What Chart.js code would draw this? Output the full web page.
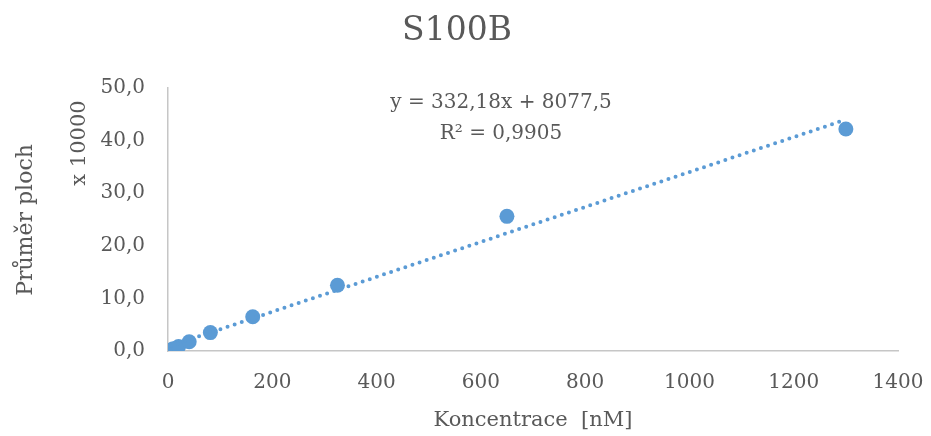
<!DOCTYPE html>
<html lang="cs">
<head>
<meta charset="utf-8">
<title>S100B</title>
<script src="https://cdn.jsdelivr.net/npm/chart.js@4/dist/chart.umd.min.js"></script>
<style>
  html, body { margin: 0; padding: 0; background: #ffffff; }
  #wrap { width: 931px; height: 436px; }
</style>
</head>
<body>
<div id="wrap"><canvas id="calib"></canvas></div>
<script>
/* =================================================================
   S100B calibration curve
   Mean peak area vs. concentration, with a linear trendline
   ================================================================= */

// Concentration series [nM]
const concentrations = [5.08, 10.16, 20.31, 40.63, 81.25, 162.5, 325, 650, 1300];
// Mean peak areas, in units of 10 000
const meanAreas = [0.2, 0.45, 0.85, 1.75, 3.5, 6.5, 12.5, 25.6, 42.2];

// Axis ticks
const xTicks = [0, 200, 400, 600, 800, 1000, 1200, 1400];
const yTicks = [0, 10, 20, 30, 40, 50];

// Linear fit (raw units) and display unit of the y axis
const trendSlope = 332.18;
const trendIntercept = 8077.5;
const rSquared = 0.9905;
const displayUnit = 10000;

// Texts
const chartTitle = 'S100B';
const xTitle = 'Koncentrace  [nM]';
const yTitle = 'Průměr ploch';
const yUnitTitle = 'x 10000';

// Look
const FONT = '"DejaVu Serif", serif';
const TEXT_COLOR = '#595959';
const SERIES_COLOR = '#5b9bd5';
const AXIS_COLOR = '#c6c6c6';

// Decimal comma formatter
const fmt = (value, digits) => value.toFixed(digits).replace('.', ',');

// Trendline end points from the fitted equation, across the data range
const trendX = [concentrations[0], concentrations[concentrations.length - 1]];
const trendPoints = trendX.map(x => ({ x, y: (trendSlope * x + trendIntercept) / displayUnit }));

const scatterPoints = concentrations.map((x, i) => ({ x, y: meanAreas[i] }));

// Rotated, centred text helper
function drawVertical(ctx, text, x, y, size) {
  ctx.save();
  ctx.translate(x, y);
  ctx.rotate(-Math.PI / 2);
  ctx.font = `${size}px ${FONT}`;
  ctx.fillText(text, 0, 0);
  ctx.restore();
}

// Title, axis titles and trendline equation
const textLayer = {
  id: 'textLayer',
  afterDraw(chart) {
    const ctx = chart.ctx;
    ctx.save();
    ctx.fillStyle = TEXT_COLOR;
    ctx.textAlign = 'center';
    ctx.textBaseline = 'middle';

    ctx.font = `33px ${FONT}`;
    ctx.fillText(chartTitle, 457, 31);

    ctx.font = `20px ${FONT}`;
    ctx.fillText(`y = ${fmt(trendSlope, 2)}x + ${fmt(trendIntercept, 1)}`, 501, 103);
    ctx.fillText(`R² = ${fmt(rSquared, 4)}`, 501, 134);

    ctx.font = `21px ${FONT}`;
    ctx.fillText(xTitle, 533, 421);

    drawVertical(ctx, yTitle, 26, 220, 22);
    drawVertical(ctx, yUnitTitle, 80, 143, 21);
    ctx.restore();
  }
};

new Chart(document.getElementById('calib'), {
  type: 'scatter',
  data: {
    datasets: [
      {
        // dotted linear trendline, drawn over the points
        type: 'line',
        data: trendPoints,
        order: 0,
        borderColor: SERIES_COLOR,
        borderWidth: 4,
        borderDash: [0, 7.5],
        borderCapStyle: 'round',
        pointRadius: 0,
        fill: false
      },
      {
        data: scatterPoints,
        order: 1,
        backgroundColor: SERIES_COLOR,
        borderWidth: 0,
        pointRadius: 7.5,
        pointHoverRadius: 7.5
      }
    ]
  },
  options: {
    responsive: true,
    maintainAspectRatio: false,
    animation: false,
    layout: { padding: { top: 88, right: 33, left: 0, bottom: 0 } },
    plugins: {
      legend: { display: false },
      tooltip: { enabled: false }
    },
    scales: {
      x: {
        type: 'linear',
        min: xTicks[0],
        max: xTicks[xTicks.length - 1],
        afterBuildTicks: scale => { scale.ticks = xTicks.map(v => ({ value: v })); },
        afterFit: scale => {
          scale.height = 85;
          // let the end labels overhang instead of shrinking the plot
          scale.paddingLeft = 0;
          scale.paddingRight = 0;
        },
        grid: { display: false, drawTicks: false },
        border: { display: true, color: AXIS_COLOR, width: 1.5 },
        ticks: {
          color: TEXT_COLOR,
          font: { family: FONT, size: 20 },
          padding: 20,
          maxRotation: 0,
          callback: v => String(v)
        }
      },
      y: {
        min: yTicks[0],
        max: yTicks[yTicks.length - 1],
        afterBuildTicks: scale => { scale.ticks = yTicks.map(v => ({ value: v })); },
        afterFit: scale => {
          scale.width = 168;
          scale.paddingTop = 0;
          scale.paddingBottom = 0;
        },
        grid: { display: false, drawTicks: false },
        border: { display: true, color: AXIS_COLOR, width: 1.5 },
        ticks: {
          color: TEXT_COLOR,
          font: { family: FONT, size: 20 },
          padding: 23,
          callback: v => fmt(v, 1)
        }
      }
    }
  },
  plugins: [textLayer]
});
</script>
</body>
</html>
